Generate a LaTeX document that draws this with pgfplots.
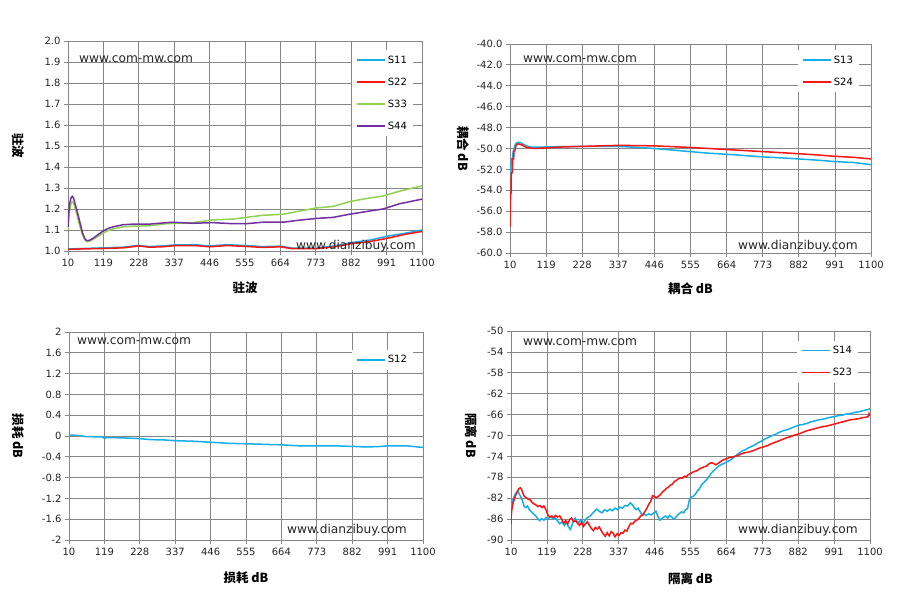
\documentclass[border=0pt]{standalone}
\usepackage{pgfplots}
\pgfplotsset{compat=1.18}
\usepackage{fontspec}
\setmainfont{DejaVu Sans}
\newfontfamily\cjk{Noto Sans CJK SC}
\definecolor{sblue}{RGB}{20,174,232}
\definecolor{sred}{RGB}{250,20,20}
\definecolor{sgreen}{RGB}{146,208,80}
\definecolor{spurple}{RGB}{112,48,160}
\definecolor{gridgray}{RGB}{134,134,134}
\pgfplotsset{
  legbox/.style={
    legend cell align=left,
    legend image code/.code={\draw[line width=1.5pt,##1] (0pt,0pt) -- (28pt,0pt);},
    legend image post style={line width=1.5pt},
    legend style={draw=none, fill=white, anchor=north east,
      font=\fontsize{10}{12}\selectfont, inner xsep=4pt, inner ysep=4pt,
      row sep=10pt, nodes={inner sep=2pt, text height=7pt, text depth=1pt}},
  },
  panel/.style={
    scale only axis, anchor=south west,
    xmin=10, xmax=1100,
    xtick={10,119,228,337,446,555,664,773,882,991,1100},
    xticklabels={10,119,228,337,446,555,664,773,882,991,1100},
    grid=major,
    grid style={color=gridgray, line width=0.8pt},
    axis line style={gridgray, line width=0.8pt},
    tick style={gridgray, line width=0.8pt},
    tick align=outside, major tick length=4pt,
    xtick pos=bottom, ytick pos=left,
    ticklabel style={font=\fontsize{10}{12}\selectfont, text=black!85},
    xticklabel style={yshift=-1pt},
    xlabel style={at={(axis description cs:0.5,0)}, anchor=center, font=\cjk\bfseries\fontsize{12.5}{14}\selectfont},
    ylabel style={anchor=center, rotate=180, font=\cjk\bfseries\fontsize{12.5}{14}\selectfont},
    legbox,
    every axis plot/.append style={line width=1.5pt, no marks},
  }
}
\begin{document}
\begin{tikzpicture}[x=1pt,y=1pt]
\fill[white] (0pt,0pt) rectangle (897pt,605pt);
\useasboundingbox (0pt,0pt) rectangle (897pt,605pt);

% Panel 4 first: isolation
\begin{axis}[panel, at={(511pt,65pt)}, width=359pt, height=209pt,
  ymin=-90, ymax=-50, ytick={-90,-86,-82,-78,-74,-70,-66,-62,-58,-54,-50},
  yticklabels={-90,-86,-82,-78,-74,-70,-66,-62,-58,-54,-50},
  xlabel={隔离 dB}, ylabel={隔离 dB},
  xlabel style={yshift=-39pt}, ylabel style={at={(axis description cs:-0.111,0.5)}},
  legend style={at={(0.967,0.955)}}]
\addplot[sblue] coordinates {(10,-84.5) (14,-82.5) (18,-82) (22,-81.3) (26,-81) (31,-80.6) (35,-81.2) (40,-81.8) (45,-82.5) (50,-83.6) (55,-83.8) (60,-83.5) (66,-84.2) (72,-84.6) (78,-85) (84,-85.3) (90,-85.8) (97,-86.3) (103,-85.9) (110,-86.2) (117,-85.7) (124,-85.9) (131,-85.5) (138,-86) (145,-85.8) (152,-86.4) (158,-86.9) (165,-86.5) (172,-87.2) (178,-86.6) (185,-87.5) (190,-88) (195,-87.2) (200,-86.2) (205,-85.8) (210,-86.4) (216,-86.6) (222,-86.1) (229,-86.8) (235,-86.2) (242,-85.7) (249,-85.5) (256,-85) (262,-84.6) (270,-84.1) (278,-84.5) (286,-84.8) (294,-84.2) (302,-84.5) (310,-84.1) (318,-84.4) (326,-83.9) (334,-84.2) (340,-83.7) (348,-83.9) (356,-83.4) (364,-83.5) (372,-82.9) (378,-83.2) (384,-83.8) (390,-84.2) (396,-83.9) (402,-84.6) (408,-85.2) (414,-85) (420,-85.3) (428,-85) (436,-85.2) (444,-84.8) (450,-84.5) (456,-85.5) (462,-86.2) (468,-85.9) (474,-85.6) (480,-85.4) (486,-85.8) (492,-85.3) (498,-85.6) (504,-86) (510,-85.7) (516,-85.2) (522,-84.9) (528,-84.6) (534,-84.8) (540,-84.2) (546,-84) (552,-82.2) (558,-81.8) (564,-81.6) (570,-81.2) (576,-80.6) (582,-80.2) (588,-79.5) (594,-79.1) (600,-78.7) (606,-78.3) (612,-77.8) (618,-77.2) (624,-76.8) (630,-76.5) (636,-76.1) (642,-75.8) (650,-75.5) (658,-75.3) (666,-75.0) (674,-74.8) (682,-74.4) (690,-74.0) (698,-73.6) (706,-73.2) (714,-72.9) (722,-72.7) (730,-72.4) (740,-72.1) (750,-71.8) (760,-71.4) (770,-71.1) (780,-70.7) (790,-70.4) (800,-70.1) (812,-69.8) (824,-69.4) (836,-69.1) (848,-68.9) (860,-68.6) (872,-68.3) (884,-68.0) (896,-67.9) (908,-67.7) (920,-67.4) (932,-67.2) (944,-67.0) (956,-66.9) (968,-66.7) (980,-66.5) (992,-66.4) (1004,-66.2) (1016,-66.1) (1028,-65.9) (1040,-65.8) (1052,-65.6) (1064,-65.5) (1076,-65.3) (1088,-65.1) (1096,-65.0) (1100,-64.8)};
\addplot[sred] coordinates {(10,-87) (11,-85) (13,-84) (16,-83) (20,-82.2) (25,-81.3) (30,-80.6) (34,-80.2) (38,-80) (42,-80.3) (46,-81) (50,-81.6) (56,-81.9) (62,-82.2) (68,-82.3) (74,-82.8) (80,-83.1) (86,-83.3) (92,-83.6) (98,-83.4) (104,-83.8) (110,-83.5) (116,-84.2) (122,-85.2) (128,-85.6) (134,-85.4) (140,-85.7) (146,-85.3) (152,-85.6) (158,-85.4) (164,-86) (170,-86.8) (176,-86.3) (182,-86.9) (188,-86.1) (194,-85.8) (200,-86.5) (206,-86.3) (212,-86.8) (218,-87.2) (224,-86.6) (230,-87.4) (236,-86.9) (242,-86.5) (248,-87.2) (254,-87.8) (260,-88.2) (266,-87.6) (272,-87.9) (278,-87.5) (284,-88.2) (290,-88.8) (296,-89.3) (302,-88.6) (308,-89.2) (314,-88.4) (320,-88.7) (326,-89.4) (332,-88.8) (338,-89.1) (344,-88.6) (350,-88.7) (356,-88.1) (362,-88.3) (368,-87.4) (374,-86.8) (380,-86.9) (386,-86.4) (392,-86.2) (398,-85.9) (404,-85.4) (410,-85.2) (416,-84.6) (422,-84) (428,-83.2) (434,-82.6) (440,-81.5) (446,-81.7) (452,-81.9) (458,-81.6) (464,-81.3) (470,-80.8) (476,-80.5) (482,-80.1) (488,-79.9) (494,-79.5) (500,-79.3) (506,-78.8) (512,-78.6) (518,-78.3) (524,-78.1) (530,-78.2) (536,-77.8) (542,-77.9) (548,-77.5) (554,-77.3) (560,-77.1) (566,-76.9) (572,-76.8) (578,-76.6) (584,-76.3) (590,-76.2) (596,-76) (602,-75.9) (608,-75.6) (614,-75.3) (620,-75.2) (626,-75.4) (632,-75.6) (638,-75.4) (644,-75.1) (650,-74.8) (658,-74.6) (666,-74.4) (674,-74.2) (682,-74.1) (690,-74) (700,-73.8) (710,-73.5) (720,-73.3) (730,-73.2) (740,-73) (750,-72.8) (760,-72.5) (770,-72.3) (780,-72.1) (790,-71.9) (800,-71.6) (812,-71.3) (824,-71) (836,-70.7) (848,-70.4) (860,-70.2) (872,-69.9) (884,-69.7) (896,-69.4) (908,-69.1) (920,-68.9) (932,-68.7) (944,-68.5) (956,-68.3) (968,-68.2) (980,-68) (992,-67.8) (1004,-67.6) (1016,-67.4) (1028,-67.2) (1040,-67) (1052,-66.9) (1064,-66.8) (1076,-66.6) (1088,-66.5) (1094,-66.4) (1097,-65.8) (1100,-66.2)};
\legend{S14,S23}
\end{axis}

% Panel 1: VSWR
\begin{axis}[panel, at={(68pt,354pt)}, width=354pt, height=210pt,
  ymin=1, ymax=2, ytick={1,1.1,1.2,1.3,1.4,1.5,1.6,1.7,1.8,1.9,2},
  yticklabels={1.0,1.1,1.2,1.3,1.4,1.5,1.6,1.7,1.8,1.9,2.0},
  xlabel={驻波}, ylabel={驻波},
  xlabel style={yshift=-37pt}, ylabel style={at={(axis description cs:-0.141,0.5)}},
  legend style={at={(0.975,0.957)}}]
\addplot[sblue] coordinates {(10,1.010) (60,1.012) (119,1.015) (180,1.018) (228,1.027) (260,1.021) (300,1.024) (337,1.029) (400,1.030) (446,1.024) (500,1.030) (555,1.026) (610,1.021) (664,1.023) (700,1.014) (773,1.013) (830,1.024) (882,1.040) (940,1.052) (991,1.070) (1050,1.085) (1100,1.100)};
\addplot[sred] coordinates {(10,1.008) (60,1.010) (119,1.012) (180,1.015) (228,1.024) (260,1.018) (300,1.020) (337,1.025) (400,1.026) (446,1.020) (500,1.026) (555,1.022) (610,1.017) (664,1.020) (700,1.011) (773,1.011) (830,1.020) (882,1.035) (940,1.045) (991,1.060) (1050,1.080) (1100,1.093)};
\addplot[sgreen] coordinates {(10,1.10) (12,1.15) (15,1.19) (19,1.225) (23,1.235) (27,1.23) (31,1.21) (38,1.17) (46,1.12) (55,1.075) (62,1.052) (68,1.045) (76,1.047) (87,1.055) (100,1.068) (118,1.085) (133,1.097) (149,1.105) (179,1.115) (210,1.118) (261,1.12) (313,1.13) (395,1.135) (456,1.148) (518,1.152) (559,1.16) (610,1.17) (672,1.175) (723,1.19) (775,1.205) (826,1.212) (877,1.235) (929,1.25) (980,1.262) (1031,1.285) (1100,1.31)};
\addplot[spurple] coordinates {(10,1.114) (12,1.18) (15,1.225) (19,1.252) (23,1.26) (27,1.252) (31,1.23) (38,1.19) (46,1.14) (55,1.085) (62,1.058) (68,1.049) (76,1.051) (87,1.06) (100,1.075) (118,1.095) (133,1.107) (149,1.115) (179,1.125) (210,1.128) (261,1.128) (313,1.135) (333,1.137) (395,1.132) (456,1.135) (518,1.13) (559,1.13) (610,1.137) (672,1.137) (723,1.147) (775,1.155) (826,1.16) (877,1.175) (929,1.188) (980,1.20) (1031,1.225) (1100,1.247)};
\legend{S11,S22,S33,S44}
\end{axis}

% Panel 2: coupling
\begin{axis}[panel, at={(510pt,352pt)}, width=361pt, height=209pt,
  ymin=-60, ymax=-40, ytick={-60,-58,-56,-54,-52,-50,-48,-46,-44,-42,-40},
  yticklabels={-60.0,-58.0,-56.0,-54.0,-52.0,-50.0,-48.0,-46.0,-44.0,-42.0,-40.0},
  xlabel={耦合 dB}, ylabel={耦合 dB},
  xlabel style={yshift=-36pt}, ylabel style={at={(axis description cs:-0.130,0.5)}},
  legend style={at={(0.967,0.972)}}]
\addplot[sblue] coordinates {(10,-52.5) (12,-52.3) (14,-51) (17,-51) (20,-50.2) (24,-49.8) (28,-49.5) (35,-49.4) (42,-49.45) (50,-49.6) (60,-49.75) (70,-49.85) (90,-49.88) (119,-49.85) (170,-49.82) (228,-49.8) (280,-49.8) (337,-49.8) (390,-49.88) (446,-50) (500,-50.15) (555,-50.3) (610,-50.45) (664,-50.55) (720,-50.68) (773,-50.8) (830,-50.9) (882,-51) (940,-51.12) (991,-51.25) (1050,-51.35) (1100,-51.55)};
\addplot[sred] coordinates {(10,-57.5) (11,-55.5) (12,-54.3) (13,-54.3) (14,-52.3) (17,-52.3) (18,-51) (21,-51) (22,-50.3) (25,-50.2) (28,-49.7) (35,-49.55) (45,-49.65) (60,-49.9) (80,-50) (119,-49.95) (170,-49.85) (228,-49.8) (280,-49.75) (337,-49.7) (390,-49.72) (446,-49.75) (500,-49.82) (555,-49.9) (610,-50) (664,-50.1) (720,-50.2) (773,-50.3) (830,-50.4) (882,-50.5) (940,-50.62) (991,-50.75) (1050,-50.85) (1100,-51.0)};
\legend{S13,S24}
\end{axis}

% Panel 3: loss
\begin{axis}[panel, at={(69pt,65pt)}, width=354pt, height=208pt,
  ymin=-2, ymax=2, ytick={-2,-1.6,-1.2,-0.8,-0.4,0,0.4,0.8,1.2,1.6,2},
  yticklabels={-2,-1.6,-1.2,-0.8,-0.4,0,0.4,0.8,1.2,1.6,2},
  xlabel={损耗 dB}, ylabel={损耗 dB},
  xlabel style={yshift=-38pt}, ylabel style={at={(axis description cs:-0.144,0.5)}},
  legend style={at={(0.972,0.915)}}]
\addplot[sblue] coordinates {(10,0.02) (40,0.01) (60,-0.01) (90,-0.015) (115,-0.02) (119,-0.05) (125,-0.03) (170,-0.035) (228,-0.05) (260,-0.07) (300,-0.075) (337,-0.09) (390,-0.10) (446,-0.12) (500,-0.14) (555,-0.15) (610,-0.16) (664,-0.17) (720,-0.19) (773,-0.19) (830,-0.19) (882,-0.2) (920,-0.21) (960,-0.205) (991,-0.19) (1050,-0.19) (1100,-0.22)};
\legend{S12}
\end{axis}

% watermarks
\begin{scope}[every node/.style={font=\fontsize{12.2}{14}\selectfont, text=black!85, inner sep=0pt}]
\node[anchor=west] at (79pt,546pt) {www.com-mw.com};
\node[anchor=east] at (416pt,359pt) {www.dianzibuy.com};
\node[anchor=west] at (523pt,546pt) {www.com-mw.com};
\node[anchor=east] at (858pt,359pt) {www.dianzibuy.com};
\node[anchor=west] at (77pt,264pt) {www.com-mw.com};
\node[anchor=east] at (407pt,75pt) {www.dianzibuy.com};
\node[anchor=west] at (523pt,263pt) {www.com-mw.com};
\node[anchor=east] at (858pt,75pt) {www.dianzibuy.com};
\end{scope}
\end{tikzpicture}
\end{document}
